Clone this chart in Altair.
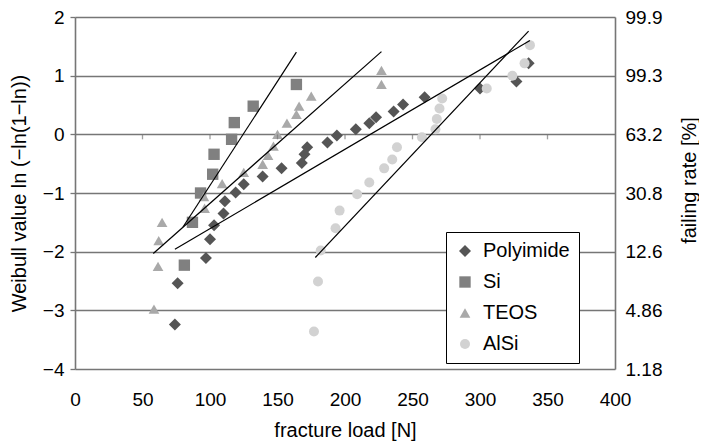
import altair as alt
import pandas as pd

# ---------------- data ----------------
series_names = ["Polyimide", "Si", "TEOS", "AlSi"]

poly_load = [74, 76, 97, 100, 103, 110, 111, 119, 125, 139, 153, 168, 170, 172,
             187, 194, 208, 218, 223, 236, 243, 259, 300, 327, 336]
poly_weib = [-3.24, -2.54, -2.11, -1.79, -1.55, -1.35, -1.14, -0.99, -0.85, -0.72,
             -0.58, -0.49, -0.34, -0.22, -0.14, -0.02, 0.085, 0.19, 0.29, 0.39,
             0.51, 0.63, 0.78, 0.90, 1.21]

si_load = [81, 87, 93, 102, 103, 116, 118, 132, 164]
si_weib = [-2.23, -1.50, -1.00, -0.68, -0.34, -0.085, 0.20, 0.48, 0.85]

teos_load = [58.5, 61.5, 62, 64.5, 95.5, 96, 109, 125, 139, 143, 147, 150, 157,
             164, 166, 175, 227, 227]
teos_weib = [-2.98, -2.25, -1.81, -1.50, -1.06, -1.26, -0.84, -0.65, -0.51, -0.36,
             -0.20, 0.0, 0.19, 0.34, 0.48, 0.65, 0.85, 1.09]

alsi_load = [177, 180, 182, 193, 196, 209, 218, 229, 235, 238.5, 257, 267, 268,
             270, 272, 305, 324, 333, 337]
alsi_weib = [-3.36, -2.51, -1.98, -1.60, -1.30, -1.02, -0.82, -0.58, -0.43, -0.22,
             -0.05, 0.085, 0.26, 0.44, 0.61, 0.78, 1.0, 1.21, 1.52]

# trend lines (start / end points)
trend_series = ["Polyimide", "Si", "TEOS", "AlSi"]
trend_load_start = [74, 80, 58, 178]
trend_weib_start = [-1.96, -1.58, -2.03, -2.10]
trend_load_end = [337, 164, 227, 336]
trend_weib_end = [1.60, 1.40, 1.41, 1.76]

# axes
x_ticks = [0, 50, 100, 150, 200, 250, 300, 350, 400]
x_inner_ticks = [50, 100, 150, 200, 250, 300, 350]
y_ticks = [-4, -3, -2, -1, 0, 1, 2]
rate_labels = ["1.18", "4.86", "12.6", "30.8", "63.2", "99.3", "99.9"]

series_colors = ["#555555", "#808080", "#a9a9a9", "#d2d2d2"]
series_shapes = ["diamond", "square", "triangle-up", "circle"]
series_sizes = [144, 100, 140, 100]

# ---------------- tables ----------------
rows = []
idx = 0
for name, xs, ys in zip(series_names,
                        [poly_load, si_load, teos_load, alsi_load],
                        [poly_weib, si_weib, teos_weib, alsi_weib]):
    for x, y in zip(xs, ys):
        rows.append({"series": name, "load": x, "weibull": y, "idx": idx})
        idx += 1
points = pd.DataFrame(rows)

trend_rows = []
for s, x0, y0, x1, y1 in zip(trend_series, trend_load_start, trend_weib_start,
                             trend_load_end, trend_weib_end):
    trend_rows.append({"line": s, "load": x0, "weibull": y0})
    trend_rows.append({"line": s, "load": x1, "weibull": y1})
trends = pd.DataFrame(trend_rows)

ticks_df = pd.DataFrame({"load": x_inner_ticks, "weibull": [0] * len(x_inner_ticks)})

FONT = "Liberation Sans"
GRID = "#767676"

x_scale = alt.Scale(domain=[0, 400], nice=False, zero=False)
y_scale = alt.Scale(domain=[-4, 2], nice=False, zero=False)

x_axis = alt.Axis(values=x_ticks, title="fracture load [N]", ticks=False, tickSize=0,
                  domain=False, grid=False, labelPadding=21, labelFlush=False,
                  labelFontSize=19, labelColor="black", labelFont=FONT,
                  titleFontSize=20, titleFont=FONT, titleFontWeight="normal",
                  titleColor="black", titlePadding=11)

y_left_axis = alt.Axis(values=y_ticks, title="Weibull value ln (\u2212ln(1\u2212ln))",
                       orient="left", grid=True, gridColor=GRID, gridWidth=1.3,
                       domain=True, domainColor=GRID, domainWidth=1.6,
                       ticks=True, tickSize=5, tickColor=GRID, tickWidth=1.3,
                       labelPadding=6, labelFlush=False, labelFontSize=19,
                       labelColor="black", labelFont=FONT,
                       titleFontSize=20, titleFont=FONT, titleFontWeight="normal",
                       titleColor="black", titlePadding=13)

rate_expr = "[" + ",".join("'" + s + "'" for s in rate_labels) + "][round(datum.value) + 4]"
y_right_axis = alt.Axis(values=y_ticks, title="failing rate [%]", orient="right",
                        grid=False, domain=True, domainColor=GRID, domainWidth=1.6,
                        ticks=False, tickSize=0, labelPadding=10, labelFlush=False,
                        labelExpr=rate_expr, labelFontSize=19, labelColor="black",
                        labelFont=FONT, titleFontSize=20, titleFont=FONT,
                        titleFontWeight="normal", titleColor="black",
                        titleAngle=270, titlePadding=38, titleY=163)

legend = alt.Legend(title=None, orient="none", legendX=371, legendY=215,
                    fillColor="white", strokeColor="black", padding=9,
                    labelFontSize=20, labelFont=FONT, labelColor="black",
                    symbolSize=100, symbolStrokeWidth=0, rowPadding=11,
                    labelOffset=8, cornerRadius=0)

pts = alt.Chart(points).mark_point(filled=True, opacity=1, strokeWidth=0).encode(
    x=alt.X("load:Q", scale=x_scale, axis=x_axis),
    y=alt.Y("weibull:Q", scale=y_scale, axis=y_left_axis),
    color=alt.Color("series:N", scale=alt.Scale(domain=series_names, range=series_colors),
                    legend=legend),
    shape=alt.Shape("series:N", scale=alt.Scale(domain=series_names, range=series_shapes),
                    legend=legend),
    size=alt.Size("series:N", scale=alt.Scale(domain=series_names, range=series_sizes),
                  legend=None),
    order=alt.Order("idx:Q"),
)

lines = alt.Chart(trends).mark_line(color="black", strokeWidth=1.2).encode(
    x=alt.X("load:Q", scale=x_scale, axis=x_axis),
    y=alt.Y("weibull:Q", scale=y_scale, axis=None),
    detail="line:N",
)

xticks = alt.Chart(ticks_df).mark_tick(orient="vertical", size=5, thickness=1.3,
                                        color=GRID, yOffset=2.5).encode(
    x=alt.X("load:Q", scale=x_scale, axis=x_axis),
    y=alt.Y("weibull:Q", scale=y_scale, axis=None),
)

right = alt.Chart(ticks_df).mark_point(opacity=0).encode(
    x=alt.X("load:Q", scale=x_scale, axis=x_axis),
    y=alt.Y("weibull:Q", scale=y_scale, axis=y_right_axis),
)

chart = alt.layer(pts, lines, xticks, right).resolve_scale(
    y="independent"
).properties(
    width=540, height=352,
    autosize=alt.AutoSizeParams(type="none"),
    padding={"left": 67, "top": 9, "right": 84, "bottom": 73},
    background="white",
).configure_view(stroke=None)

chart.save("out.html", embed_options={"renderer": "svg", "actions": False})
